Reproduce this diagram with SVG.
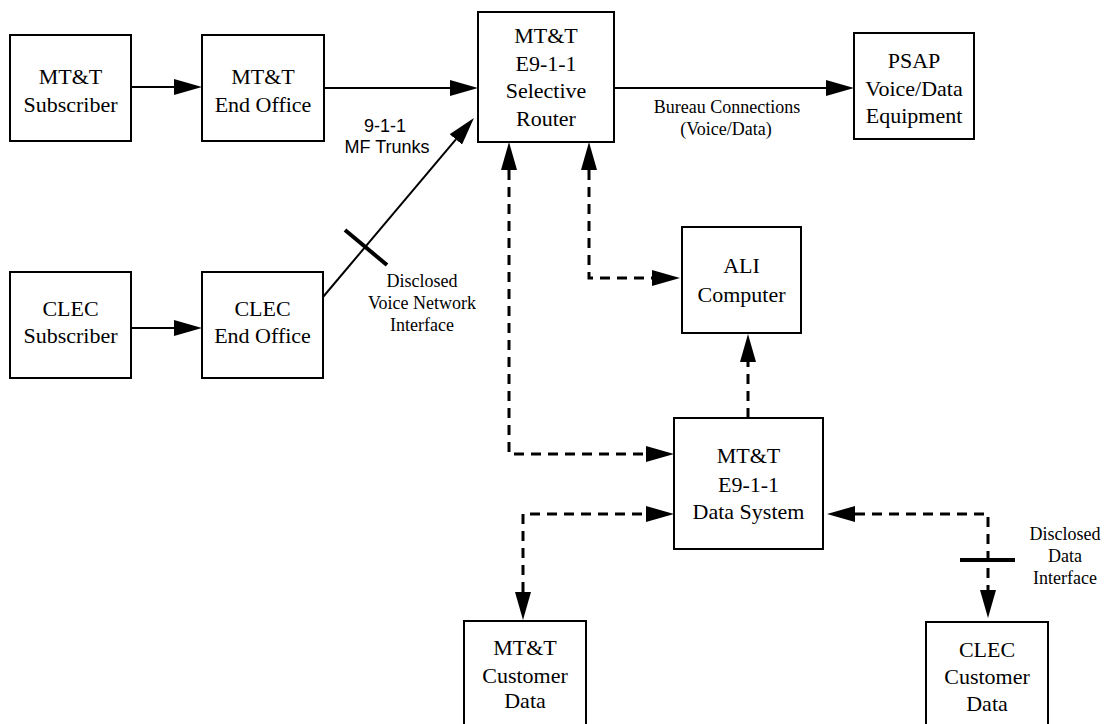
<svg xmlns="http://www.w3.org/2000/svg" width="1106" height="724" viewBox="0 0 1106 724">
  <style>
    .box { fill: #ffffff; stroke: #000000; stroke-width: 2; }
    .t { font-family: "Liberation Serif", "Times New Roman", serif; font-size: 22px; fill: #000; text-anchor: middle; }
    .lbl { font-family: "Liberation Serif", "Times New Roman", serif; font-size: 18px; fill: #000; text-anchor: middle; }
    .lbls { font-family: "Liberation Sans", Arial, sans-serif; font-size: 18px; fill: #000; text-anchor: middle; }
    .solid { fill: none; stroke: #000; stroke-width: 2; }
    .dash { fill: none; stroke: #000; stroke-width: 3; stroke-dasharray: 10 7; }
    .tick { stroke: #000; stroke-width: 4; }
  </style>
  <defs>
    <marker id="ah" viewBox="0 -8 28 16" markerWidth="28" markerHeight="16" refX="0" refY="0" orient="auto-start-reverse" markerUnits="userSpaceOnUse">
      <path d="M0,-8 L28,0 L0,8 Z" fill="#000"/>
    </marker>
  </defs>

  <g id="connectors">
    <path class="solid" d="M131,87 L174,87" marker-end="url(#ah)"/>
    <path class="solid" d="M324,88 L450,88" marker-end="url(#ah)"/>
    <path class="solid" d="M131,328 L174,328" marker-end="url(#ah)"/>
    <path class="solid" d="M323,297 L455.9,139.4" marker-end="url(#ah)"/>
    <line class="tick" x1="345" y1="230" x2="387" y2="265"/>
    <path class="solid" d="M614,88 L826,88" marker-end="url(#ah)"/>
    <path class="dash" d="M509,170 L509,454 L646,454" marker-start="url(#ah)" marker-end="url(#ah)"/>
    <path class="dash" d="M589,170 L589,278 L652,278" marker-start="url(#ah)" marker-end="url(#ah)"/>
    <path class="dash" d="M748,418 L748,362" marker-end="url(#ah)"/>
    <path class="dash" d="M523,592 L523,514 L646,514" marker-start="url(#ah)" marker-end="url(#ah)"/>
    <path class="dash" d="M855,514 L988,514 L988,590" marker-start="url(#ah)" marker-end="url(#ah)"/>
    <line class="tick" x1="960" y1="560" x2="1015" y2="560"/>
    <text class="lbls" x="385" y="132">9-1-1</text>
    <text class="lbls" x="387" y="153">MF Trunks</text>
    <text class="lbl" x="727" y="113">Bureau Connections</text>
    <text class="lbl" x="726" y="135">(Voice/Data)</text>
    <text class="lbl" x="422" y="287">Disclosed</text>
    <text class="lbl" x="422" y="309">Voice Network</text>
    <text class="lbl" x="422" y="331">Interface</text>
    <text class="lbl" x="1065" y="540">Disclosed</text>
    <text class="lbl" x="1065" y="562">Data</text>
    <text class="lbl" x="1065" y="584">Interface</text>
  </g>

  <g id="mtt-subscriber">
    <rect class="box" x="10" y="35" width="121" height="106"/>
    <text class="t" x="70.5" y="84">MT&amp;T</text>
    <text class="t" x="70.5" y="112">Subscriber</text>
  </g>
  <g id="mtt-end-office">
    <rect class="box" x="202" y="35" width="122" height="106"/>
    <text class="t" x="263" y="84">MT&amp;T</text>
    <text class="t" x="263" y="112">End Office</text>
  </g>
  <g id="selective-router">
    <rect class="box" x="478" y="12" width="136" height="130"/>
    <text class="t" x="546" y="43">MT&amp;T</text>
    <text class="t" x="546" y="71">E9-1-1</text>
    <text class="t" x="546" y="98">Selective</text>
    <text class="t" x="546" y="126">Router</text>
  </g>
  <g id="psap">
    <rect class="box" x="854" y="33" width="120" height="106"/>
    <text class="t" x="914" y="68">PSAP</text>
    <text class="t" x="914" y="96">Voice/Data</text>
    <text class="t" x="914" y="123">Equipment</text>
  </g>
  <g id="clec-subscriber">
    <rect class="box" x="10" y="272" width="121" height="106"/>
    <text class="t" x="70.5" y="316">CLEC</text>
    <text class="t" x="70.5" y="343">Subscriber</text>
  </g>
  <g id="clec-end-office">
    <rect class="box" x="202" y="272" width="121" height="106"/>
    <text class="t" x="262.5" y="316">CLEC</text>
    <text class="t" x="262.5" y="343">End Office</text>
  </g>
  <g id="ali-computer">
    <rect class="box" x="682" y="227" width="119" height="106"/>
    <text class="t" x="741.5" y="273">ALI</text>
    <text class="t" x="741.5" y="302">Computer</text>
  </g>
  <g id="data-system">
    <rect class="box" x="674" y="418" width="149" height="131"/>
    <text class="t" x="748.5" y="463">MT&amp;T</text>
    <text class="t" x="748.5" y="492">E9-1-1</text>
    <text class="t" x="748.5" y="519">Data System</text>
  </g>
  <g id="mtt-customer-data">
    <rect class="box" x="464" y="621" width="122" height="110"/>
    <text class="t" x="525" y="655">MT&amp;T</text>
    <text class="t" x="525" y="683">Customer</text>
    <text class="t" x="525" y="708">Data</text>
  </g>
  <g id="clec-customer-data">
    <rect class="box" x="926" y="622" width="122" height="110"/>
    <text class="t" x="987" y="657">CLEC</text>
    <text class="t" x="987" y="684">Customer</text>
    <text class="t" x="987" y="711">Data</text>
  </g>
</svg>
